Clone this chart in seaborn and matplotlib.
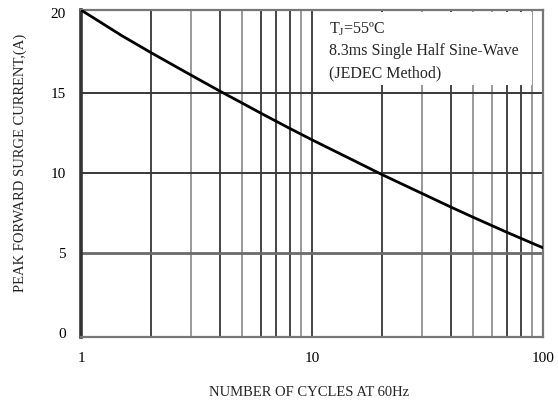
import pandas as pd
import matplotlib
matplotlib.use("Agg")
import matplotlib.pyplot as plt
from matplotlib.patches import Rectangle
import seaborn as sns

# curve
cycles = [1, 1.5, 2, 3, 4, 5, 6, 7, 8, 9, 10, 15, 20, 30, 40, 50, 60, 70, 80, 90, 100]
current = [20.2, 18.6, 17.55, 16.12, 15.12, 14.37, 13.75, 13.24, 12.8, 12.42, 12.08,
           10.82, 9.92, 8.72, 7.87, 7.23, 6.72, 6.29, 5.93, 5.61, 5.33]

x_ticks = [1, 10, 100]
y_ticks = [0, 5, 10, 15, 20]
note_lines = ["T$_\\mathregular{J}$=55\u00baC", "8.3ms Single Half Sine-Wave", "(JEDEC Method)"]

df = pd.DataFrame({"Cycles": cycles, "Current": current})

sns.set_style("white")
plt.rcParams['font.family'] = ['Liberation Serif', 'DejaVu Serif']
plt.rcParams['mathtext.fontset'] = 'custom'
plt.rcParams['mathtext.rm'] = 'Liberation Serif'

fig = plt.figure(figsize=(5.58, 4.05), dpi=100)
ax = fig.add_axes([81 / 558, 1 - 337 / 405, 462 / 558, 327 / 405])

# grid lines (some printed lighter than others)
light = {3, 5, 9, 30, 50, 60, 90}
for v in [2, 3, 4, 5, 6, 7, 8, 9, 10, 20, 30, 40, 50, 60, 70, 80, 90]:
    ax.axvline(v, color="#9a9a9a" if v in light else "#454545", lw=1.4, zorder=1)
for v in [10, 15]:
    ax.axhline(v, color="#383838", lw=1.4, zorder=1)
ax.axhline(5, color="#6a6a6a", lw=2.0, zorder=1)

# white note box covering the grid
ax.add_patch(Rectangle((0.517, 0.771), 0.459, 0.223, transform=ax.transAxes,
                       facecolor="white", edgecolor="none", zorder=2))

sns.lineplot(data=df, x="Cycles", y="Current", color="black", lw=2.0, ax=ax, zorder=3)

ax.set_xscale("log")
ax.set_xlim(1, 100)
ax.set_ylim(-0.25, 20.2)
ax.set_xticks(x_ticks)
ax.set_xticklabels([str(t) for t in x_ticks])
ax.set_xticks([], minor=True)
ax.set_yticks(y_ticks)
ax.tick_params(axis="both", length=0, labelsize=11, colors="black")
ax.tick_params(axis="x", pad=11)
ax.tick_params(axis="y", pad=11)
ax.set_xlabel("")
ax.set_ylabel("")

fig.text(309 / 558, 1 - 393 / 405, "NUMBER OF CYCLES AT 60Hz", fontsize=10.5,
         ha="center", va="center")
fig.text(20 / 558, 1 - 163 / 405, "PEAK FORWARD SURGE CURRENT,(A)", fontsize=10.5,
         ha="center", va="center", rotation=90)

for s in ax.spines.values():
    s.set_color("#777777")
    s.set_linewidth(1.6)
ax.spines["left"].set_linewidth(2.6)
ax.spines["left"].set_color("#333333")

for i, line in enumerate(note_lines):
    fig.text(329 / 558, 1 - (33 + 22 * i) / 405, line, fontsize=11.5,
             ha="left", va="baseline", zorder=4)

fig.savefig("out.png", dpi=100)
